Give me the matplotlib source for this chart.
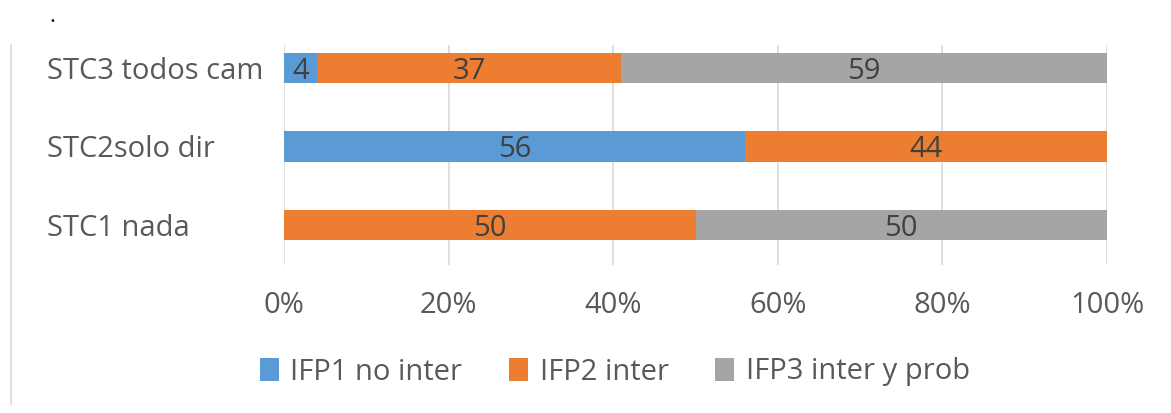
import numpy as np
import matplotlib.pyplot as plt
from matplotlib.lines import Line2D
from matplotlib.ticker import PercentFormatter

# ======================
# Data
# ======================

categories = ["STC1 nada", "STC2solo dir", "STC3 todos cam"]
ifp1 = [0, 56, 4]
ifp2 = [50, 44, 37]
ifp3 = [50, 0, 59]
series_names = ["IFP1 no inter", "IFP2 inter", "IFP3 inter y prob"]
colors = ["#5B9BD5", "#ED7D31", "#A5A5A5"]
text_color = "#595959"

plt.rcParams["font.family"] = ["Open Sans", "DejaVu Sans"]
FS = 21

# ======================
# Figure
# ======================

fig = plt.figure(figsize=(11.71, 4.13), dpi=100)
ax = fig.add_axes([284 / 1171, 1 - 265 / 413, (1107 - 284) / 1171, (265 - 45) / 413])

y = np.arange(len(categories))
left = np.zeros(len(categories))
for vals, name, col in zip([ifp1, ifp2, ifp3], series_names, colors):
    vals = np.array(vals, dtype=float)
    bars = ax.barh(y, vals, left=left, height=0.39, color=col, label=name, zorder=3)
    for b, v in zip(bars, vals):
        if v > 0:
            ax.text(b.get_x() + b.get_width() / 2, b.get_y() + b.get_height() / 2,
                    f"{int(v)}", ha="center", va="center_baseline",
                    fontsize=FS, color="#404040", zorder=4)
    left += vals

ax.set_xlim(0, 100)
ax.set_ylim(-0.51, 2.293)
ax.set_xticks([0, 20, 40, 60, 80, 100])
ax.xaxis.set_major_formatter(PercentFormatter(decimals=0))
ax.set_yticks(y)
ax.set_yticklabels(categories, ha="left")
for lbl in ax.get_yticklabels():
    lbl.set_va("center_baseline")
ax.tick_params(axis="y", length=0, pad=170.6, labelsize=FS, labelcolor=text_color)
ax.tick_params(axis="x", length=0, pad=19, labelsize=FS, labelcolor=text_color)
ax.grid(axis="x", color="#D9D9D9", linewidth=1.2, zorder=0)
for s in ax.spines.values():
    s.set_visible(False)

# legend
handles, labels = ax.get_legend_handles_labels()
fig.legend(handles, labels, loc="center", bbox_to_anchor=(615 / 1171, 1 - 372 / 413),
           ncol=3, frameon=False, fontsize=FS, labelcolor=text_color,
           handlelength=0.65, handleheight=0.85, handletextpad=0.4, columnspacing=1.6)

# outer left border line and stray dot
fig.add_artist(Line2D([11 / 1171, 11 / 1171], [1 - 404 / 413, 1 - 45 / 413],
                      color="#D9D9D9", linewidth=1.2))
fig.text(52 / 1171, 1 - 16 / 413, ".", fontsize=16, color="black", ha="center", va="center")

fig.savefig("out.png", dpi=100)
